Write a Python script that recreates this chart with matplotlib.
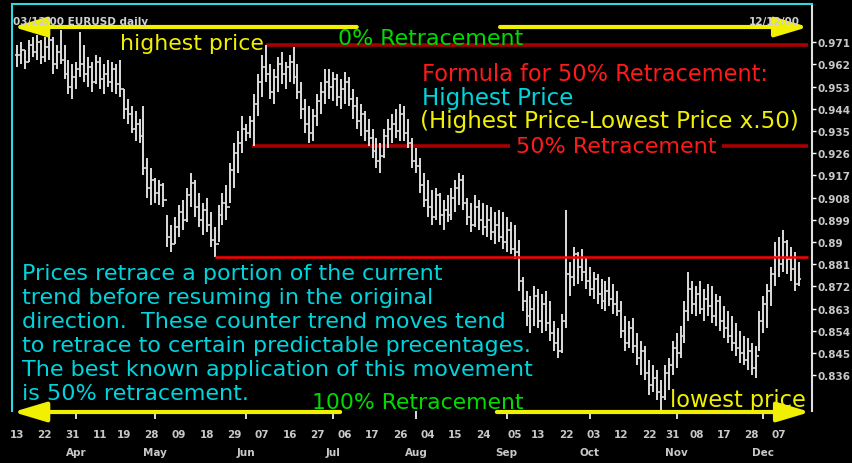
import numpy as np
import pandas as pd
import matplotlib
matplotlib.use('Agg')
import matplotlib.pyplot as plt

W, H = 852, 464

# daily EURUSD bars, 13 Mar 2000 - 14 Dec 2000 (business days)
start_date = '2000-03-13'
end_date = '2000-12-14'

high = [
    # Mar
    .970, .971, .968, .972, .973, .974, .972, .973, .975, .973, .970, .976, .970, .964, .962,
    # Apr
    .963, .975, .970, .965, .963, .966, .965, .962, .964, .963, .962, .964, .952, .948, .945,
    .943, .940, .945, .924, .920,
    # May
    .916, .915, .914, .901, .897, .900, .905, .907, .912, .918, .915, .910, .906, .908, .902,
    .896, .905, .910, .913, .922, .930, .935, .941,
    # Jun
    .938, .941, .950, .958, .966, .970, .962, .960, .965, .967, .963, .966, .969, .962, .955,
    .948, .945, .944, .950, .955, .960, .960,
    # Jul
    .959, .958, .956, .959, .957, .952, .949, .946, .943, .940, .936, .932, .930, .936, .940,
    .942, .944, .946, .945, .940, .932,
    # Aug
    .928, .924, .918, .915, .911, .912, .910, .907, .909, .912, .915, .918, .917, .908, .906,
    .909, .907, .906, .905, .904, .902, .903, .902,
    # Sep
    .900, .898, .897, .891, .876, .870, .868, .872, .871, .869, .870, .866, .858, .855, .861,
    .903, .882, .888, .886, .887, .884,
    # Oct
    .880, .878, .877, .875, .874, .876, .873, .870, .866, .860, .858, .859, .853, .850, .848,
    .842, .840, .838, .834, .840, .843, .850,
    # Nov
    .853, .856, .866, .878, .874, .872, .874, .871, .873, .872, .869, .868, .864, .862, .860,
    .857, .854, .852, .851, .849, .848, .862,
    # Dec
    .868, .873, .880, .890, .892, .895, .891, .888, .886, .882,
]

low = [
    .961, .962, .960, .963, .965, .964, .962, .963, .964, .958, .960, .962, .956, .950, .948,
    .952, .957, .955, .953, .951, .954, .952, .950, .953, .951, .950, .949, .940, .938, .934,
    .931, .930, .917, .908, .905,
    .906, .905, .904, .888, .886, .889, .892, .895, .898, .904, .900, .896, .893, .894, .888,
    .884, .890, .897, .899, .906, .912, .918, .926,
    .931, .932, .929, .941, .949, .955, .948, .946, .951, .954, .952, .955, .954, .948, .940,
    .934, .930, .931, .937, .942, .946, .948,
    .947, .945, .944, .946, .945, .940, .936, .933, .931, .929, .924, .920, .918, .924, .928,
    .930, .932, .931, .931, .928, .920,
    .918, .910, .904, .900, .897, .899, .897, .895, .898, .899, .902, .905, .903, .897, .894,
    .896, .895, .893, .892, .891, .889, .890, .887,
    .886, .885, .883, .870, .862, .856, .853, .856, .855, .853, .854, .850, .846, .843, .845,
    .855, .868, .872, .873, .874, .871,
    .868, .867, .865, .863, .862, .864, .861, .860, .851, .846, .847, .845, .840, .836, .834,
    .828, .829, .826, .822, .826, .830, .836,
    .839, .843, .849, .858, .861, .860, .861, .858, .860, .857, .856, .854, .851, .849, .846,
    .844, .841, .840, .838, .836, .835, .846,
    .853, .855, .864, .872, .876, .878, .877, .874, .870, .872,
]

close = [
    .966, .968, .963, .970, .967, .971, .965, .969, .972, .962, .967, .964, .958, .953, .957,
    .960, .962, .958, .961, .955, .963, .956, .958, .955, .960, .954, .952, .944, .942, .936,
    .938, .933, .920, .912, .915,
    .910, .913, .907, .892, .889, .896, .902, .899, .909, .914, .904, .899, .903, .897, .891,
    .889, .901, .906, .904, .919, .926, .930, .936,
    .934, .939, .946, .955, .961, .958, .951, .957, .962, .958, .961, .963, .957, .951, .944,
    .938, .934, .941, .947, .951, .955, .953,
    .956, .949, .952, .955, .948, .945, .939, .942, .935, .932, .927, .923, .925, .933, .936,
    .938, .935, .942, .934, .930, .923,
    .921, .913, .907, .904, .900, .909, .901, .903, .901, .908, .912, .915, .906, .900, .897,
    .904, .899, .896, .899, .894, .897, .892, .890,
    .895, .887, .886, .874, .866, .860, .863, .868, .858, .865, .857, .853, .849, .846, .858,
    .877, .876, .885, .880, .878, .874,
    .871, .875, .869, .866, .870, .867, .865, .862, .854, .849, .855, .848, .843, .846, .837,
    .832, .835, .829, .827, .837, .840, .847,
    .845, .852, .862, .871, .865, .869, .863, .867, .864, .860, .866, .858, .855, .852, .849,
    .847, .845, .842, .846, .839, .844, .858,
    .865, .870, .877, .884, .881, .890, .883, .879, .873, .875,
]

# retracement levels as drawn on the chart
peak_search_from = '2000-05-01'   # the "highest price" is the June peak
fifty_level = 0.929
support_level = 0.884

y_ticks = [0.971, 0.962, 0.953, 0.944, 0.935, 0.926, 0.917, 0.908,
           0.899, 0.89, 0.881, 0.872, 0.863, 0.854, 0.845, 0.836]

tick_dates = ['2000-03-13', '2000-03-22', '2000-03-31', '2000-04-11', '2000-04-19',
              '2000-04-28', '2000-05-09', '2000-05-18', '2000-05-29', '2000-06-07',
              '2000-06-16', '2000-06-27', '2000-07-06', '2000-07-17', '2000-07-26',
              '2000-08-04', '2000-08-15', '2000-08-24', '2000-09-05', '2000-09-13',
              '2000-09-22', '2000-10-03', '2000-10-12', '2000-10-23', '2000-10-31',
              '2000-11-08', '2000-11-17', '2000-11-28', '2000-12-07']
tick_labels = ['13', '22', '31', '11', '19', '28', '09', '18', '29', '07', '16', '27',
               '06', '17', '26', '04', '15', '24', '05', '13', '22', '03', '12', '22',
               '31', '08', '17', '28', '07']

paragraph = ["Prices retrace a portion of the current",
             "trend before resuming in the original",
             "direction.  These counter trend moves tend",
             "to retrace to certain predictable precentages.",
             "The best known application of this movement",
             "is 50% retracement."]

YELLOW = '#f0f000'
GREEN = '#00dc00'
RED = '#ff1a1a'
DARKRED = '#a80000'
CYAN = '#00d4dc'
GREY = '#c8c8c8'

dates = pd.bdate_range(start_date, end_date)
high = np.array(high)
low = np.array(low)
close = np.array(close)
n = len(dates)
assert len(high) == len(low) == len(close) == n
x = np.arange(n)
opens = np.r_[close[0], close[:-1]]

fig = plt.figure(figsize=(W / 100, H / 100), dpi=100, facecolor='black')
ax = fig.add_axes([12 / W, 1 - 412 / H, 800 / W, 407 / H])
ax.set_facecolor('black')
ax.set_xlim(-1.3, 201.3)
ax.set_ylim(0.8215, 0.9865)

# OHLC bars
bar_col = '#dcdcdc'
ax.vlines(x, low, high, color=bar_col, lw=1.4, zorder=3)
ax.hlines(close, x, x + 0.5, color=bar_col, lw=1.2, zorder=3)
ax.hlines(opens, x - 0.5, x, color=bar_col, lw=1.2, zorder=3)

# retracement lines
x_end = ax.get_xlim()[1] - 1.0
i0 = dates.get_loc(pd.Timestamp(peak_search_from))
i_top = i0 + int(np.argmax(high[i0:]))
i_50 = int(np.argmin(np.abs(low - fifty_level)))
i_sup = int(np.argmin(np.abs(low - support_level)))
ax.hlines(high[i_top], i_top, x_end, color=DARKRED, lw=2.6, zorder=2)
ax.hlines(fifty_level, i_50 - 0.5, x_end, color=DARKRED, lw=2.6, zorder=2)
ax.hlines(support_level, i_sup, x_end, color='#ff0000', lw=1.8, zorder=4)

# yellow arrows
def arrow(x_tail, x_head, yf):
    ax.annotate('', xy=(x_head, yf), xytext=(x_tail, yf),
                xycoords=('data', 'axes fraction'), annotation_clip=False,
                arrowprops=dict(arrowstyle='-|>,head_length=1.0,head_width=0.3',
                                mutation_scale=20, color=YELLOW, lw=3,
                                shrinkA=0, shrinkB=0), zorder=6)

top_y = (412 - 28) / 407
bot_y = (412 - 413) / 407
arrow(86, -1.0, top_y)
arrow(122.3, 200.3, top_y)
arrow(81.8, -1.0, bot_y)
arrow(121.5, 200.8, bot_y)

# axes styling
ax.spines['bottom'].set_visible(False)
ax.spines['left'].set_color('#30d8e0')
ax.spines['top'].set_color('#30d8e0')
ax.spines['left'].set_linewidth(1.5)
ax.spines['top'].set_linewidth(1.5)
ax.spines['right'].set_color('#e0e0e0')
ax.spines['right'].set_linewidth(1.5)

ax.yaxis.tick_right()
ax.set_yticks(y_ticks)
ax.set_yticklabels(['%g' % v for v in y_ticks])
ax.tick_params(axis='y', colors='white', labelcolor=GREY, length=3, width=1,
               pad=1, labelsize=7.5)

tick_idx = dates.get_indexer(pd.to_datetime(tick_dates))
ax.set_xticks(tick_idx)
ax.set_xticklabels(tick_labels)
month_idx = [i for i in range(1, n) if dates[i].month != dates[i - 1].month]
ax.set_xticks(month_idx, minor=True)
ax.tick_params(axis='x', which='major', length=0, pad=13, labelcolor=GREY, labelsize=7.5)
ax.tick_params(axis='x', which='minor', length=6, width=1.2, colors='white')
for lab in ax.get_xticklabels() + ax.get_yticklabels():
    lab.set_fontweight('bold')

for i in month_idx:
    ax.text(i, -(453 - 412) / 407, dates[i].strftime('%b'), transform=ax.get_xaxis_transform(),
            ha='center', va='center', color=GREY, fontsize=7.5, fontweight='bold')

# text annotations, fitted to the widths seen on the chart
renderer = fig.canvas.get_renderer()

def put(s, x0, x1, base, color, size=None, **kw):
    t = fig.text(x0 / W, 1 - base / H, s, color=color, fontsize=12,
                 ha='left', va='baseline', zorder=7, **kw)
    if size is None:
        w = t.get_window_extent(renderer=renderer).width
        size = 12 * (x1 - x0) / w
    t.set_fontsize(size)
    return size

put('03/12/00 EURUSD daily', 13, 160, 25, '#d0d0d0', size=7.5, fontweight='bold')
fig.text(800 / W, 1 - 25 / H, '12/12/00', color='#d0d0d0', fontsize=7.5,
         fontweight='bold', ha='right', va='baseline')

put('highest price', 120, 263, 50, YELLOW)
put('0% Retracement', 338, 522, 45, GREEN)
put('Formula for 50% Retracement:', 422, 768, 81, RED)
put('Highest Price', 422, 573, 105, CYAN)
put('(Highest Price-Lowest Price x.50)', 420, 798, 128, YELLOW)
put('50% Retracement', 516, 716, 153, RED,
    bbox=dict(facecolor='black', edgecolor='none', pad=3))
put('100% Retracement', 312, 522, 409, GREEN)
put('lowest price', 670, 806, 407, YELLOW)

psize = put(paragraph[4], 22, 531, 376, CYAN)
for k, line in enumerate(paragraph):
    if k != 4:
        put(line, 22, None, 280 + 24 * k, CYAN, size=psize)

fig.savefig('out.png', dpi=100, facecolor='black')
